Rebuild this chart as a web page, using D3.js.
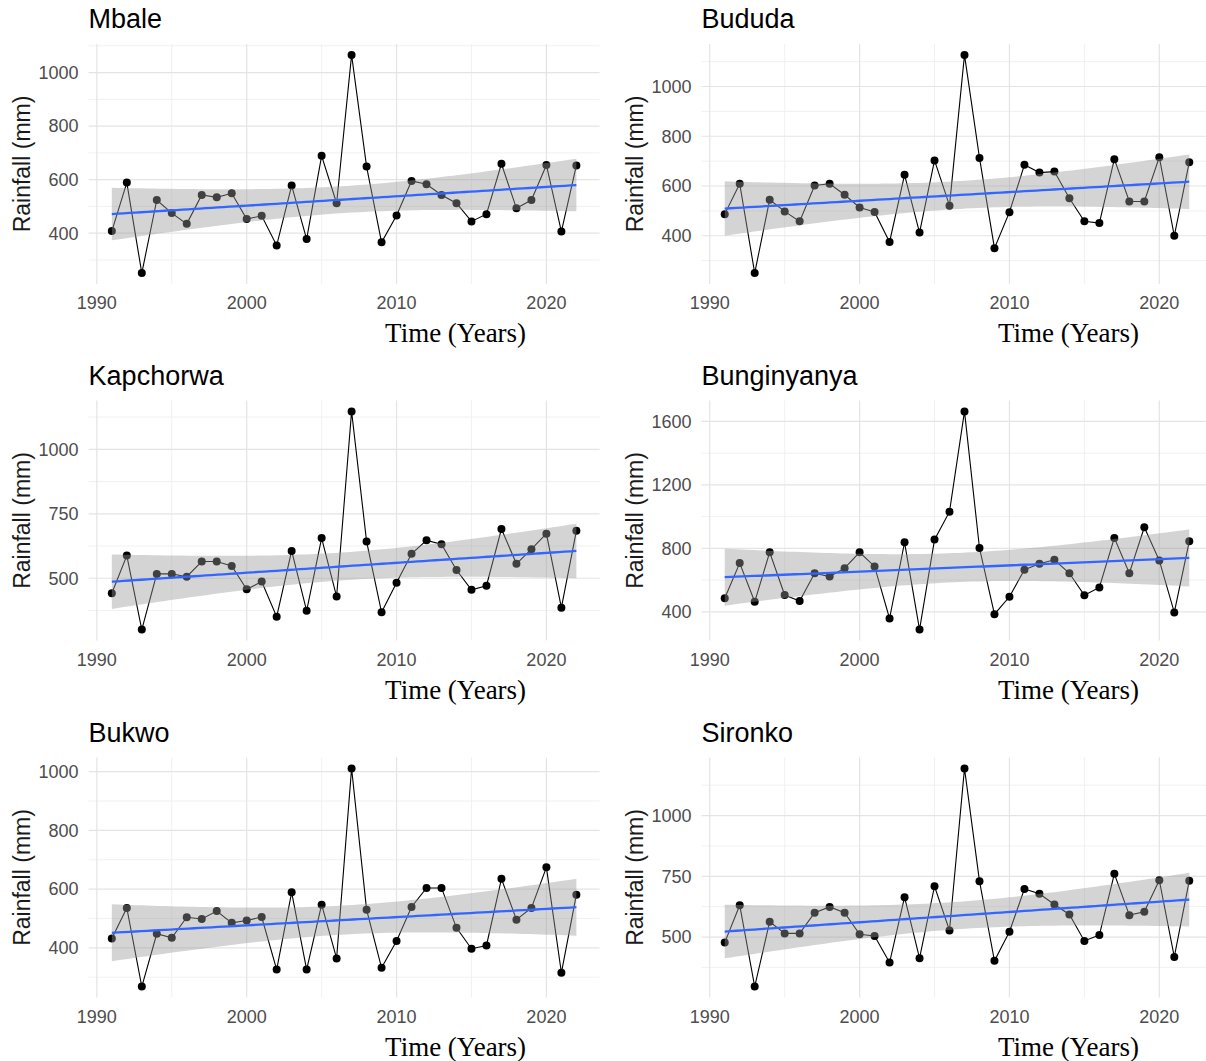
<!DOCTYPE html>
<html>
<head>
<meta charset="utf-8">
<script src="https://cdn.jsdelivr.net/npm/d3@7/dist/d3.min.js"></script>
<style>
  body { margin: 0; background: #fff; }
  svg { display: block; }
</style>
</head>
<body>
<div id="chart"></div>
<script>
// annual rainfall per station
var years = [1991, 1992, 1993, 1994, 1995, 1996, 1997, 1998, 1999, 2000, 2001,
  2002, 2003, 2004, 2005, 2006, 2007, 2008, 2009, 2010, 2011, 2012, 2013, 2014,
  2015, 2016, 2017, 2018, 2019, 2020, 2021, 2022];

var mbale = [408, 589, 251, 524, 475, 435, 543, 534, 549, 453, 465, 354, 578, 378,
  689, 512, 1066, 649, 366, 466, 595, 583, 543, 512, 444, 471, 659, 493, 524, 655, 406, 653];
var bududa = [487, 609, 250, 545, 498, 458, 602, 609, 565, 514, 496, 375, 645, 413,
  703, 521, 1127, 713, 350, 495, 685, 654, 658, 551, 458, 451, 708, 538, 538, 716, 400, 696];
var kapchorwa = [442, 588, 301, 517, 517, 506, 565, 565, 548, 457, 487, 351, 606, 374,
  656, 429, 1147, 643, 368, 483, 595, 647, 632, 532, 455, 471, 691, 556, 613, 673, 386, 684];
var bunginyanya = [485, 707, 463, 775, 506, 468, 643, 622, 675, 775, 686, 358, 838, 288,
  855, 1031, 1663, 802, 385, 495, 665, 703, 728, 643, 504, 554, 866, 643, 933, 724, 396, 844];
var bukwo = [432, 536, 268, 448, 434, 504, 498, 525, 485, 493, 505, 326, 589, 326,
  547, 364, 1011, 530, 332, 423, 539, 604, 604, 468, 397, 408, 635, 496, 536, 674, 315, 581];
var sironko = [477, 631, 296, 563, 515, 515, 600, 624, 600, 511, 504, 395, 664, 413,
  709, 527, 1194, 730, 402, 522, 698, 678, 634, 593, 484, 508, 760, 590, 604, 734, 418, 732];

var stations = ['Mbale', 'Bududa', 'Kapchorwa', 'Bunginyanya', 'Bukwo', 'Sironko'];
var rainfall = [mbale, bududa, kapchorwa, bunginyanya, bukwo, sironko];

var yTicks = [
  [400, 600, 800, 1000],
  [400, 600, 800, 1000],
  [500, 750, 1000],
  [400, 800, 1200, 1600],
  [400, 600, 800, 1000],
  [500, 750, 1000]
];
var xTicks = [1990, 2000, 2010, 2020];
var xMinor = [1995, 2005, 2015];

// layout
var W = 1206, H = 1061;
var panelW = 511, panelH = 240;
var colX = [88.6, 701.5];
var rowY = [44, 400.5, 757.5];
var tCrit = 2.042; // t(0.975, df = 30)

var svg = d3.select('#chart')
  .append('svg')
  .attr('width', W)
  .attr('height', H)
  .style('background', 'white');

function fitLine(xs, ys) {
  var n = xs.length;
  var xbar = d3.mean(xs), ybar = d3.mean(ys);
  var sxx = d3.sum(xs, function(x) { return (x - xbar) * (x - xbar); });
  var sxy = d3.sum(xs, function(x, i) { return (x - xbar) * (ys[i] - ybar); });
  var b = sxy / sxx;
  var a = ybar - b * xbar;
  var sse = d3.sum(xs, function(x, i) { var r = ys[i] - (a + b * x); return r * r; });
  var s = Math.sqrt(sse / (n - 2));
  return { a: a, b: b, s: s, xbar: xbar, sxx: sxx, n: n };
}

stations.forEach(function(name, k) {
  var vals = rainfall[k];
  var col = k % 2, row = Math.floor(k / 2);
  var px = colX[col], py = rowY[row];

  var fit = fitLine(years, vals);
  var grid = d3.range(80).map(function(i) {
    var x = years[0] + (years[years.length - 1] - years[0]) * i / 79;
    var yhat = fit.a + fit.b * x;
    var se = fit.s * Math.sqrt(1 / fit.n + (x - fit.xbar) * (x - fit.xbar) / fit.sxx);
    return { x: x, y: yhat, lo: yhat - tCrit * se, hi: yhat + tCrit * se };
  });

  var ext = d3.extent(vals.concat(grid.map(function(d) { return d.lo; }), grid.map(function(d) { return d.hi; })));
  var ypad = (ext[1] - ext[0]) * 0.05;
  var xpad = (years[years.length - 1] - years[0]) * 0.05;

  var x = d3.scaleLinear()
    .domain([years[0] - xpad, years[years.length - 1] + xpad])
    .range([0, panelW]);
  var y = d3.scaleLinear()
    .domain([ext[0] - ypad, ext[1] + ypad])
    .range([panelH, 0]);

  var g = svg.append('g')
    .attr('transform', 'translate(' + px + ',' + py + ')');

  // minor y breaks: halfway between majors
  var ticks = yTicks[k];
  var step = ticks[1] - ticks[0];
  var yMinor = [];
  for (var v = ticks[0] - step / 2; v <= y.domain()[1]; v += step) {
    if (v >= y.domain()[0]) yMinor.push(v);
  }

  g.selectAll('.yminor').data(yMinor).enter().append('line')
    .attr('x1', 0).attr('x2', panelW)
    .attr('y1', function(d) { return y(d); }).attr('y2', function(d) { return y(d); })
    .attr('stroke', '#efefef').attr('stroke-width', 0.9);
  g.selectAll('.xminor').data(xMinor).enter().append('line')
    .attr('y1', 0).attr('y2', panelH)
    .attr('x1', function(d) { return x(d); }).attr('x2', function(d) { return x(d); })
    .attr('stroke', '#efefef').attr('stroke-width', 0.9);
  g.selectAll('.ymajor').data(ticks).enter().append('line')
    .attr('x1', 0).attr('x2', panelW)
    .attr('y1', function(d) { return y(d); }).attr('y2', function(d) { return y(d); })
    .attr('stroke', '#e4e4e4').attr('stroke-width', 1.2);
  g.selectAll('.xmajor').data(xTicks).enter().append('line')
    .attr('y1', 0).attr('y2', panelH)
    .attr('x1', function(d) { return x(d); }).attr('x2', function(d) { return x(d); })
    .attr('stroke', '#e4e4e4').attr('stroke-width', 1.2);

  // observed series
  var line = d3.line()
    .x(function(d, i) { return x(years[i]); })
    .y(function(d) { return y(d); });

  g.append('path')
    .datum(vals)
    .attr('d', line)
    .attr('fill', 'none')
    .attr('stroke', '#000')
    .attr('stroke-width', 1.1);

  g.selectAll('.pt').data(vals).enter().append('circle')
    .attr('cx', function(d, i) { return x(years[i]); })
    .attr('cy', function(d) { return y(d); })
    .attr('r', 4)
    .attr('fill', '#000');

  // lm smoother with 95% band on top
  g.append('path')
    .datum(grid)
    .attr('d', d3.area()
      .x(function(d) { return x(d.x); })
      .y0(function(d) { return y(d.lo); })
      .y1(function(d) { return y(d.hi); }))
    .attr('fill', '#999999')
    .attr('fill-opacity', 0.42);

  g.append('path')
    .datum(grid)
    .attr('d', d3.line()
      .x(function(d) { return x(d.x); })
      .y(function(d) { return y(d.y); }))
    .attr('fill', 'none')
    .attr('stroke', '#3366FF')
    .attr('stroke-width', 2.3);

  // tick labels
  g.selectAll('.ylab').data(ticks).enter().append('text')
    .attr('x', -10)
    .attr('y', function(d) { return y(d); })
    .attr('dy', '0.35em')
    .attr('text-anchor', 'end')
    .attr('font-family', 'Liberation Sans, Arial, sans-serif')
    .attr('font-size', '18px')
    .attr('fill', '#4d4d4d')
    .text(function(d) { return d; });

  g.selectAll('.xlab').data(xTicks).enter().append('text')
    .attr('x', function(d) { return x(d); })
    .attr('y', panelH + 25)
    .attr('text-anchor', 'middle')
    .attr('font-family', 'Liberation Sans, Arial, sans-serif')
    .attr('font-size', '18px')
    .attr('fill', '#4d4d4d')
    .text(function(d) { return d; });

  // titles
  g.append('text')
    .attr('x', 0)
    .attr('y', -16)
    .attr('font-family', 'Liberation Sans, Arial, sans-serif')
    .attr('font-size', '27px')
    .attr('fill', '#000')
    .text(name);

  g.append('text')
    .attr('transform', 'translate(' + (-67) + ',' + (panelH / 2) + ') rotate(-90)')
    .attr('dy', '0.35em')
    .attr('text-anchor', 'middle')
    .attr('font-family', 'Liberation Sans, Arial, sans-serif')
    .attr('font-size', '23px')
    .attr('fill', '#1a1a1a')
    .text('Rainfall (mm)');

  g.append('text')
    .attr('x', 367)
    .attr('y', panelH + 58)
    .attr('text-anchor', 'middle')
    .attr('font-family', 'Liberation Serif, Times New Roman, serif')
    .attr('font-size', '27px')
    .attr('fill', '#000')
    .text('Time (Years)');
});
</script>
</body>
</html>
